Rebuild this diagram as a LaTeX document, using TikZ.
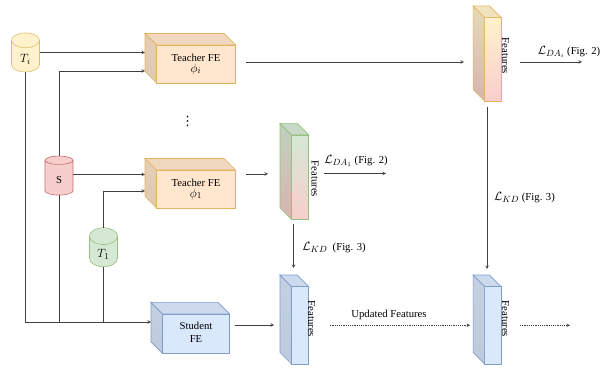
\documentclass[tikz,border=0pt]{standalone}
\usepackage{fontspec}
\setmainfont{Liberation Serif}
\newfontfamily\symfont{DejaVu Sans}
\usetikzlibrary{shapes.geometric}

\definecolor{orangefill}{HTML}{FFE6CC}
\definecolor{orangeline}{HTML}{E3B45F}
\definecolor{bluefill}{HTML}{DAE8FC}
\definecolor{blueline}{HTML}{7F9DC9}
\definecolor{yellowfill}{HTML}{FFF2CC}
\definecolor{yellowline}{HTML}{DCC069}
\definecolor{greenfill}{HTML}{D5E8D4}
\definecolor{greenline}{HTML}{97BF80}
\definecolor{redfill}{HTML}{F8CECC}
\definecolor{redline}{HTML}{C76E6A}

\newcommand{\bigmath}[1]{{\fontsize{12.5}{13}\selectfont$#1$}}
\newcommand{\lowtext}[1]{\smash{\raisebox{-6pt}{#1}}}

\tikzstyle{front} = [draw,line width=0.7pt,inner sep=0pt,outer sep=0pt,align=center,font=\fontsize{10.7}{13}\selectfont]
\tikzstyle{store} = [draw,line width=0.6pt,shape=cylinder,shape border rotate=90,aspect=1.4,minimum width=28pt,minimum height=39pt,inner sep=0pt,outer sep=0pt,cylinder uses custom fill,font=\fontsize{10.7}{13}\selectfont]
\tikzstyle{conn} = [draw,black!75,line width=0.6pt]
\tikzstyle{arrowdecorate} = [conn,->,>=stealth]
\tikzstyle{dotarrow} = [arrowdecorate,dash pattern=on 1.2pt off 1pt]
\tikzstyle{featlabel} = [rotate=-90,inner sep=0pt,font=\fontsize{10.7}{13}\selectfont]
\tikzstyle{lbl} = [inner sep=0pt,font=\fontsize{10.7}{13}\selectfont]

\begin{document}
\begin{tikzpicture}[x=1pt,y=-1pt]
      \useasboundingbox (0,0) rectangle (608,371);
      % cuboids
      \foreach \nodename/\x/\y/\w/\h/\topc/\botc/\linec/\boxtext in {
        teacheri/196/64/79/38/orangefill/orangefill/orangeline/{Teacher FE\\[-2pt]\bigmath{\phi_i}},
        teacherone/196/189/79/38/orangefill/orangefill/orangeline/{Teacher FE\\[-2pt]\bigmath{\phi_1}},
        student/196/333.6/67/39.4/bluefill/bluefill/blueline/{\raisebox{2pt}{Student}\\\raisebox{2pt}{FE}},
        feati/492.8/59.2/16.4/83.6/yellowfill/redfill/orangeline/{},
        featone/300.1/177.2/17.2/84.6/greenfill/redfill/greenline/{},
        featsone/300.1/325.3/17.2/77.4/bluefill/bluefill/blueline/{},
        featstwo/492.8/325.3/16.4/77.4/bluefill/bluefill/blueline/{}}
      {
        \node[front, draw=\linec, top color=\topc, bottom color=\botc, minimum width=\w pt, minimum height=\h pt] (\nodename) at (\x,\y) {\boxtext};
        \draw[line width=0.7pt, draw=\linec, top color=\topc!90!black, bottom color=\botc!87!black]
          (\nodename.north west) -- ++(-11.5,-11.5) -- ++(0,\h) -- (\nodename.south west) -- cycle;
        \draw[line width=0.7pt, draw=\linec, fill=\topc!94!black]
          (\nodename.north west) -- ++(-11.5,-11.5) -- ++(\w,0) -- (\nodename.north east) -- cycle;
      };
      % cylinders
      \foreach \nodename/\x/\y/\fillc/\linec/\boxtext in {
        Ti/25.5/56.3/yellowfill/yellowline/{\bigmath{T_i}},
        S/59/177.8/redfill/redline/{S},
        Tone/103.5/251.6/greenfill/greenline/{\bigmath{T_1}}}
      {
        \node[store, draw=\linec, cylinder body fill=\fillc, cylinder end fill=\fillc] (\nodename) at (\x,\y) {\lowtext{\boxtext}};
      };
      % feature labels
      \node[featlabel] (lbli) at (505.5,56) {Features};
      \node[featlabel] (lblone) at (315,179) {Features};
      \node[featlabel] (lblsone) at (311.5,319) {Features};
      \node[featlabel] (lblstwo) at (505.5,319) {Features};
      % texts
      \node[lbl] (dots) at (187.5,121) {\fontsize{13}{13}\symfont ⋮};
      \node[lbl] (lossdai) at (569,52) {\bigmath{\mathcal{L}_{DA_i}} (Fig. 2)};
      \node[lbl] (lossdaone) at (356,161) {\bigmath{\mathcal{L}_{DA_1}} (Fig. 2)};
      \node[lbl] (losskdi) at (524.5,198) {\bigmath{\mathcal{L}_{KD}} (Fig. 3)};
      \node[lbl] (losskdone) at (334,248) {\bigmath{\mathcal{L}_{KD}}\ \ (Fig. 3)};
      \node[lbl] (updated) at (389,315) {Updated Features};
      % inputs
      \coordinate (teacherin) at ([shift={(-11.5,-11.5)}]teacheri.west);
      \coordinate (oneinS) at ([shift={(-11.5,-14.5)}]teacherone.west);
      \coordinate (studin) at ([shift={(-11.5,-11.6)}]student.west);
      \draw[arrowdecorate] (Ti.east |- teacherin) -- (teacherin);
      \draw[arrowdecorate] (S.north) |- ([shift={(-11.5,7)}]teacheri.west);
      \draw[arrowdecorate] (S.east |- oneinS) -- (oneinS);
      \draw[arrowdecorate] (Tone.north) |- ([shift={(-11.5,2)}]teacherone.west);
      \draw[arrowdecorate] (Ti.south) |- (studin);
      \draw[conn] (S.south) -- (S.south |- studin);
      \draw[conn] (Tone.south) -- (Tone.south |- studin);
      % outputs
      \foreach \startnode/\sx/\sy/\endnode/\ex/\ey in {
        teacheri/50/-2/feati/-28.8/2.8,
        teacherone/50/-15/featone/-32.1/-3.2,
        student/39/-8.6/featsone/-26.1/-0.3,
        feati/27.2/2.8/feati/89.2/2.8,
        featone/23.9/-3.7/featone/85.9/-3.7,
        featone/-6.6/46.8/featsone/-6.6/-57.3,
        feati/-5.8/47.8/featstwo/-5.8/-56.3}
      {
        \draw[arrowdecorate] ([shift={(\sx,\sy)}]\startnode.center) -- ([shift={(\ex,\ey)}]\endnode.center);
      };
      \draw[dotarrow] ([xshift=21.5pt]featsone.east) -- ([xshift=-14.5pt]featstwo.west);
      \draw[dotarrow] ([xshift=19pt]featstwo.east) -- ([xshift=69pt]featstwo.east);
\end{tikzpicture}
\end{document}
